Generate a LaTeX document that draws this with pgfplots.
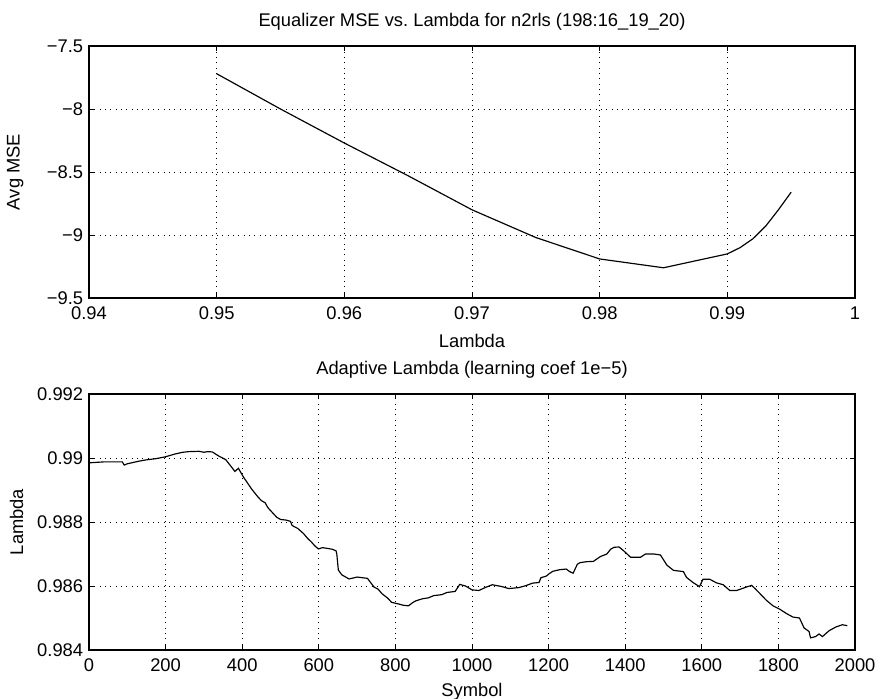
\documentclass[border=0pt]{standalone}
\usepackage{fontspec}
\setmainfont{Liberation Sans}
\usepackage{pgfplots}
\pgfplotsset{compat=1.18}

% MATLAB-like subplot look
\pgfplotsset{
  mlab/.style={
    scale only axis, width=459.6pt, anchor=south west,
    axis line style={line width=0.8pt},
    tick style={black, line width=0.6pt}, major tick length=3pt,
    grid=major,
    grid style={black, line width=0.6pt, dash pattern=on 0.6pt off 2.6pt},
    tick label style={font=\fontsize{11}{13}\selectfont},
    xticklabel style={yshift=-1.5pt},
    label style={font=\fontsize{11}{13}\selectfont},
    title style={font=\fontsize{11}{13}\selectfont},
    y label style={at={(axis description cs:-0.078,0.5)}},
  }
}

\begin{document}
\begin{tikzpicture}
\useasboundingbox (-53.4pt,178.8pt) rectangle (481.2pt,-240pt);

\begin{axis}[mlab, at={(0,0)}, height=151.2pt,
  xmin=0.94, xmax=1, ymin=-9.5, ymax=-7.5,
  xtick={0.94,0.95,0.96,0.97,0.98,0.99,1},
  xticklabels={0.94,0.95,0.96,0.97,0.98,0.99,1},
  ytick={-9.5,-9,-8.5,-8,-7.5},
  yticklabels={−9.5,−9,−8.5,−8,−7.5},
  title={Equalizer MSE vs.\ Lambda for n2rls (198:16\_19\_20)},
  xlabel={Lambda}, x label style={yshift=-2pt}, ylabel={Avg MSE}]
\addplot[black, line width=0.7pt] coordinates {
  (0.950,-7.72) (0.955,-8.00) (0.960,-8.27) (0.965,-8.53) (0.970,-8.80)
  (0.975,-9.02) (0.980,-9.19) (0.985,-9.26) (0.990,-9.15) (0.991,-9.10)
  (0.992,-9.03) (0.993,-8.93) (0.994,-8.80) (0.995,-8.66)
};
\end{axis}

\begin{axis}[mlab, at={(0,-211.2pt)}, height=153.6pt,
  xmin=0, xmax=2000, ymin=0.984, ymax=0.992,
  xtick={0,200,400,600,800,1000,1200,1400,1600,1800,2000},
  xticklabels={0,200,400,600,800,1000,1200,1400,1600,1800,2000},
  ytick={0.984,0.986,0.988,0.99,0.992},
  yticklabels={0.984,0.986,0.988,0.99,0.992},
  title={Adaptive Lambda (learning coef 1e−5)},
  xlabel={Symbol}, ylabel={Lambda}]
\addplot[black, line width=0.7pt] coordinates {
  (0,0.98985) (40,0.98988) (87,0.98988) (92,0.98978) (100,0.98982)
  (130,0.98990) (148,0.98994) (175,0.98998) (200,0.99004) (226,0.99013)
  (245,0.99018) (261,0.99020) (287,0.99021) (300,0.99018) (310,0.99020)
  (322,0.99019) (339,0.99006) (357,0.98995) (370,0.98975) (381,0.98958)
  (390,0.98968) (403,0.98941) (415,0.98920) (424,0.98904) (440,0.98880)
  (450,0.98867) (460,0.98860) (467,0.98845) (480,0.98828) (490,0.98815)
  (500,0.98808) (515,0.98806) (526,0.98802) (530,0.98790) (535,0.98786)
  (545,0.98780) (560,0.98764) (570,0.98750) (581,0.98737) (590,0.98725)
  (599,0.98716) (610,0.98720) (620,0.98718) (635,0.98715) (645,0.98710)
  (647,0.98700) (651,0.98650) (660,0.98635) (679,0.98622) (700,0.98628)
  (727,0.98624) (744,0.98597) (755,0.98590) (765,0.98576) (780,0.98562)
  (790,0.98549) (808,0.98544) (820,0.98540) (834,0.98538) (845,0.98548)
  (852,0.98553) (870,0.98560) (886,0.98563) (900,0.98570) (921,0.98573)
  (935,0.98580) (956,0.98583) (968,0.98605) (983,0.98600) (1000,0.98588)
  (1018,0.98586) (1036,0.98596) (1053,0.98604) (1079,0.98598) (1096,0.98592)
  (1122,0.98595) (1140,0.98601) (1158,0.98609) (1175,0.98611) (1180,0.98626)
  (1194,0.98631) (1202,0.98639) (1211,0.98646) (1229,0.98651) (1246,0.98653)
  (1255,0.98645) (1264,0.98640) (1275,0.98668) (1282,0.98673) (1299,0.98676)
  (1317,0.98677) (1335,0.98692) (1352,0.98700) (1362,0.98715) (1371,0.98721)
  (1384,0.98722) (1396,0.98710) (1414,0.98690) (1440,0.98690) (1453,0.98700)
  (1475,0.98700) (1492,0.98697) (1509,0.98665) (1526,0.98649) (1552,0.98645)
  (1560,0.98627) (1577,0.98611) (1594,0.98598) (1603,0.98621) (1621,0.98621)
  (1638,0.98610) (1656,0.98604) (1673,0.98586) (1691,0.98586) (1717,0.98597)
  (1730,0.98602) (1739,0.98592) (1752,0.98576) (1769,0.98555) (1786,0.98538)
  (1803,0.98528) (1821,0.98514) (1838,0.98503) (1855,0.98500) (1867,0.98469)
  (1880,0.98458) (1884,0.98438) (1897,0.98442) (1906,0.98450) (1915,0.98442)
  (1932,0.98460) (1950,0.98472) (1967,0.98479) (1980,0.98476)
};
\end{axis}
\end{tikzpicture}
\end{document}
